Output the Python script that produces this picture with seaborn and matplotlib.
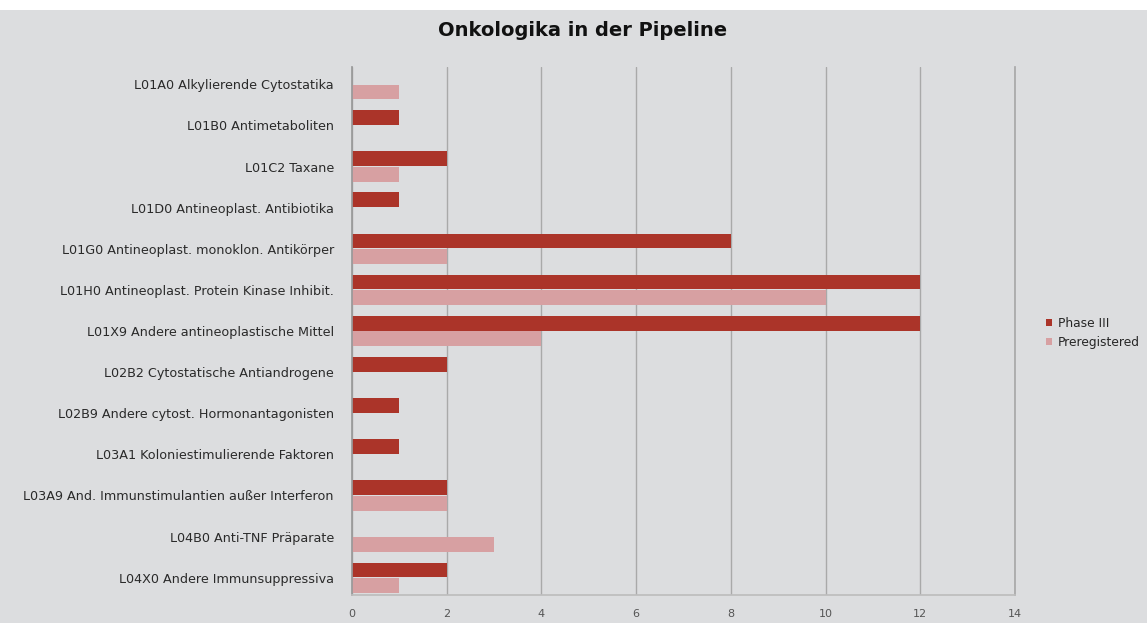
import matplotlib
matplotlib.use("Agg")
import matplotlib.pyplot as plt
import seaborn as sns
import pandas as pd
from matplotlib.patches import Rectangle

categories = [
    "L01A0 Alkylierende Cytostatika",
    "L01B0 Antimetaboliten",
    "L01C2 Taxane",
    "L01D0 Antineoplast. Antibiotika",
    "L01G0 Antineoplast. monoklon. Antikörper",
    "L01H0 Antineoplast. Protein Kinase Inhibit.",
    "L01X9 Andere antineoplastische Mittel",
    "L02B2 Cytostatische Antiandrogene",
    "L02B9 Andere cytost. Hormonantagonisten",
    "L03A1 Koloniestimulierende Faktoren",
    "L03A9 And. Immunstimulantien außer Interferon",
    "L04B0 Anti-TNF Präparate",
    "L04X0 Andere Immunsuppressiva",
]
phase3 = [0, 1, 2, 1, 8, 12, 12, 2, 1, 1, 2, 0, 2]
prereg = [1, 0, 1, 0, 2, 10, 4, 0, 0, 0, 2, 3, 1]
series = ["Phase III", "Preregistered"]
xticks = [0, 2, 4, 6, 8, 10, 12, 14]
title = "Onkologika in der Pipeline"

df = pd.DataFrame({
    "Kategorie": categories * 2,
    "Wert": phase3 + prereg,
    "Serie": [series[0]] * len(categories) + [series[1]] * len(categories),
})

bg = "#dcdddf"
sns.set_theme(style="white")
plt.rcParams["font.family"] = ["DejaVu Sans"]

fig = plt.figure(figsize=(11.47, 6.23), dpi=100, facecolor=bg)
fig.patches.append(Rectangle((0, 1 - 10 / 623), 1, 10 / 623, transform=fig.transFigure,
                             facecolor="white", edgecolor="none", zorder=0))
ax = fig.add_axes([352 / 1147, 28 / 623, (1015 - 352) / 1147, (556 - 28) / 623])
ax.set_facecolor(bg)

sns.barplot(data=df, y="Kategorie", x="Wert", hue="Serie", order=categories,
            hue_order=series, palette=["#ab3429", "#d7a0a2"], orient="h",
            width=0.76, gap=0.06, ax=ax, legend=True, saturation=1,
            linewidth=0, edgecolor="none")

ax.set_xlim(0, 14)
ax.set_ylim(12.42, -0.42)
ax.set_xticks(xticks)
ax.set_xticklabels([str(t) for t in xticks], fontsize=8, color="#555555")
ax.tick_params(axis="y", labelsize=9.2, labelcolor="#2a2a2a", length=0, pad=13)
ax.tick_params(axis="x", length=0, pad=10)
ax.set_xlabel("")
ax.set_ylabel("")
ax.xaxis.grid(True, color="#a9a9a9", linewidth=1)
ax.set_axisbelow(True)
ax.spines["top"].set_visible(False)
ax.spines["right"].set_color("#a9a9a9")
ax.spines["left"].set_color("#999999")
ax.spines["bottom"].set_color("#bdbdbd")

handles, labels = ax.get_legend_handles_labels()
ax.legend(handles, labels, loc="center left", bbox_to_anchor=(1035 / 1147, 1 - 333 / 623),
          bbox_transform=fig.transFigure, frameon=False, fontsize=8.8,
          handlelength=0.5, handleheight=0.5, handletextpad=0.5, labelspacing=0.45)

fig.text(0.508, 1 - 31 / 623, title, ha="center", va="center", fontsize=14,
         fontweight="bold", color="#111111")

fig.savefig("out.png", dpi=100, facecolor=bg)
